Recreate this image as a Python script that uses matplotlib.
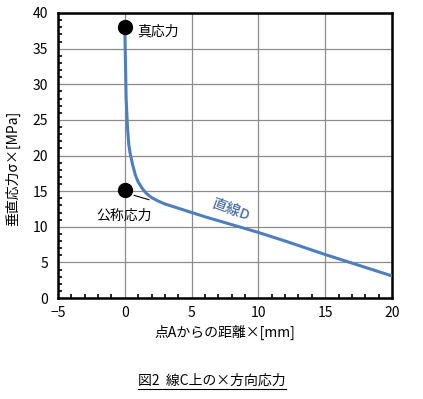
import matplotlib
matplotlib.use("Agg")
import matplotlib.pyplot as plt
from matplotlib.ticker import MultipleLocator

plt.rcParams['font.family'] = ['Noto Sans CJK JP', 'DejaVu Sans']

# data
dist_x = [0, 0.05, 0.1, 0.2, 0.3, 0.4, 0.6, 0.8, 1.0, 1.3, 1.6, 2.0, 2.5, 3.0,
          4.0, 5.0, 6.0, 8.0, 10, 12, 15, 18, 20]
stress = [38, 33, 28, 24, 21.5, 20.3, 18.6, 17.2, 16.3, 15.4, 14.7, 14.1, 13.6, 13.2,
          12.6, 12.0, 11.4, 10.3, 9.2, 8.0, 6.1, 4.3, 3.1]
marker_x = [0, 0]
marker_y = [38, 15.2]
marker_labels = ["真応力", "公称応力"]
x_ticks = [-5, 0, 5, 10, 15, 20]
y_ticks = [0, 5, 10, 15, 20, 25, 30, 35, 40]

fig = plt.figure(figsize=(4.23, 3.99), dpi=100)
ax = fig.add_axes([58/423, 1-298/399, (392-58)/423, (298-13)/399])

ax.plot(dist_x, stress, color='#4f7fbb', lw=2.2, solid_capstyle='butt', zorder=3)
ax.plot(marker_x, marker_y, 'o', color='black', markersize=10, zorder=4)

ax.set_xlim(-5, 20)
ax.set_ylim(0, 40)
ax.set_xticks(x_ticks)
ax.set_yticks(y_ticks)
ax.xaxis.set_minor_locator(MultipleLocator(1))
ax.yaxis.set_minor_locator(MultipleLocator(1))
ax.tick_params(which='major', length=0, labelsize=10, pad=6, colors='black')
ax.tick_params(axis='y', which='major', pad=7)
ax.tick_params(which='minor', direction='in', length=3, width=1.2, color='black')
ax.grid(True, which='major', color='#8c8c8c', lw=0.9)
ax.set_axisbelow(True)
for s in ax.spines.values():
    s.set_linewidth(1.8)
    s.set_color('black')

ax.set_xlabel("点Aからの距離×[mm]", fontsize=10, labelpad=3)
ax.set_ylabel("垂直応力σ×[MPa]", fontsize=10)
ax.yaxis.set_label_coords(-0.113, 0.455)

ax.text(0.95, 37.4, marker_labels[0], fontsize=10, ha='left', va='center')
ax.text(-0.05, 11.6, marker_labels[1], fontsize=10, ha='center', va='center')
ax.plot([0.7, 1.8], [14.4, 13.8], color='black', lw=0.8, zorder=3)
ax.text(7.9, 12.4, "直線D", fontsize=10.5, ha='center', va='center', color='#4a6fa3',
        rotation=-20, style='italic', fontweight='medium')

t = fig.text(212/423, 1-381/399, "図2  線C上の×方向応力", fontsize=10, ha='center', va='center')
fig.canvas.draw()
bb = t.get_window_extent()
fig.add_artist(plt.Line2D([bb.x0/423, bb.x1/423], [(bb.y0-1)/399, (bb.y0-1)/399],
                          transform=fig.transFigure, color='black', lw=0.8))

fig.savefig("out.png", dpi=100)
